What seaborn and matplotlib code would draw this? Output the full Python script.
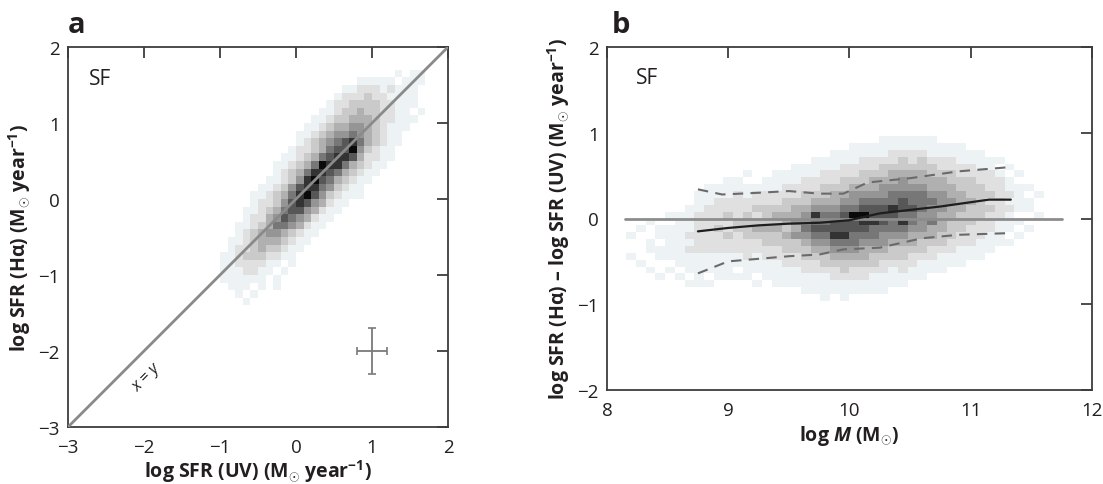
import numpy as np
import seaborn as sns
import matplotlib
matplotlib.use("Agg")
import matplotlib.pyplot as plt
from matplotlib.colors import ListedColormap

# ---------------------------------------------------------------------------
# Panel a: density of galaxies in log SFR(UV) vs log SFR(Halpha), 0.1 dex cells.
# Each string is one row of cells (top row first), digits are density levels 0-9.
# ---------------------------------------------------------------------------
a_x_edges = np.round(np.arange(-1.0, 1.8001, 0.1), 2)   # log SFR (UV)
a_y_edges = np.round(np.arange(-1.5, 1.7001, 0.1), 2)   # log SFR (Halpha)
a_rows = [
    "0000000000000000000000010110",  # 1.65
    "0000000000000000001111101110",  # 1.55
    "0000000000000000112221211100",  # 1.45
    "0000000000000001222322111100",  # 1.35
    "0000000000000012233332211100",  # 1.25
    "0000000000000112334332211010",  # 1.15
    "0000000000001123344432211100",  # 1.05
    "0000000000011234455432111000",  # 0.95
    "0000000000112345565432110000",  # 0.85
    "0000000000123456786432110000",  # 0.75
    "0000000001223467795321100000",  # 0.65
    "0000000011234678874221100000",  # 0.55
    "0000000112346988643211000000",  # 0.45
    "0000000123468876432110000000",  # 0.35
    "0000001123589764321100000000",  # 0.25
    "0000011235788653211000000000",  # 0.15
    "0000112346897532111000000000",  # 0.05
    "0000122357875421100000000000",  # -0.05
    "0001123467754211000000000000",  # -0.15
    "0001224576542110000000000000",  # -0.25
    "0011234665421100000000000000",  # -0.35
    "0012345543211000000000000000",  # -0.45
    "0112344432110000000000000000",  # -0.55
    "0122343321100000000000000000",  # -0.65
    "1123332211000000000000000000",  # -0.75
    "1122221101000000000000000000",  # -0.85
    "1112211010000000000000000000",  # -0.95
    "1111110100000000000000000000",  # -1.05
    "0111010100000000000000000000",  # -1.15
    "0010100000000000000000000000",  # -1.25
    "0001000000000000000000000000",  # -1.35
    "0000000000000000000000000000",  # -1.45
]

# 1-sigma uncertainty cross
err_center = (1.0, -2.0)
err_x = 0.2
err_y = 0.3
identity = [-3, 2]

# ---------------------------------------------------------------------------
# Panel b: residual log SFR(Halpha) - log SFR(UV) against stellar mass.
# Each string is one column of cells (low mass first), digits top -> bottom.
# ---------------------------------------------------------------------------
b_x_edges = np.round(np.arange(8.16, 11.6001, 0.08), 2)   # log M
b_y_edges = np.round(np.arange(-0.96, 0.9601, 0.08), 2)   # residual
b_cols = [
    "000000000000001001000000",  # 8.20
    "000000000000010000100000",  # 8.28
    "000000000000100110010000",  # 8.36
    "000000000000011011001000",  # 8.44
    "000000000001011111010000",  # 8.52
    "000000000001111111101000",  # 8.60
    "000000000011112121110100",  # 8.68
    "000000001112222221111100",  # 8.76
    "000000011122222221110100",  # 8.84
    "000000011222232221111000",  # 8.92
    "000000111223223221111000",  # 9.00
    "000000112222332221101000",  # 9.08
    "000001011223333222111000",  # 9.16
    "000000012232343221110100",  # 9.24
    "000000112233343322111000",  # 9.32
    "000001112234343322111100",  # 9.40
    "000001122334434332211100",  # 9.48
    "000011122344545332211100",  # 9.56
    "000011223345565433221110",  # 9.64
    "000111223458676543221110",  # 9.72
    "000112233456676543321111",  # 9.80
    "001112234456778654322110",  # 9.88
    "001122334567778654332111",  # 9.96
    "011122345569776654322110",  # 10.04
    "011223345679876544322110",  # 10.12
    "011223445677866543321110",  # 10.20
    "111233455677765543221110",  # 10.28
    "112234456687665433211100",  # 10.36
    "112334556776865433221100",  # 10.44
    "112234456676654432211000",  # 10.52
    "112334456665554332111000",  # 10.60
    "111233445655644322110000",  # 10.68
    "011223445554443321110000",  # 10.76
    "011223344544333221100000",  # 10.84
    "011122334443332211100000",  # 10.92
    "001122333433322211000000",  # 11.00
    "001112233333222111000000",  # 11.08
    "000112223232221110000000",  # 11.16
    "000101222222111100000000",  # 11.24
    "000010112121110100000000",  # 11.32
    "000001011110101000000000",  # 11.40
    "000000010110010000000000",  # 11.48
    "000000001001000000000000",  # 11.56
]

# running median and 16th / 84th percentiles of the residual
median_mass = [8.75, 9.0, 9.25, 9.5, 9.75, 10.0, 10.25, 10.5, 10.75, 11.0, 11.15, 11.33]
median_resid = [-0.15, -0.11, -0.08, -0.06, -0.05, -0.02, 0.06, 0.10, 0.14, 0.19, 0.22, 0.22]
upper_mass = [8.75, 8.95, 9.25, 9.5, 9.75, 9.95, 10.15, 10.5, 10.9, 11.33]
upper_resid = [0.34, 0.28, 0.30, 0.32, 0.29, 0.29, 0.42, 0.47, 0.55, 0.60]
lower_mass = [8.75, 9.0, 9.5, 9.75, 9.95, 10.25, 10.6, 10.9, 11.33]
lower_resid = [-0.64, -0.50, -0.44, -0.42, -0.36, -0.34, -0.23, -0.19, -0.17]
zero_span = [8.15, 11.75]

# ---------------------------------------------------------------------------
sns.set_theme(style="white")
plt.rcParams.update({
    "font.family": ["Open Sans", "DejaVu Sans"],
    "mathtext.fontset": "custom",
    "mathtext.rm": "Open Sans",
    "mathtext.bf": "Open Sans:bold",
    "mathtext.it": "Open Sans:italic:bold",
    "axes.unicode_minus": True,
})

INK = "#231f20"
SPINE = "#3d3d3d"
LABEL_SIZE = 14
LEVEL_COLORS = ["#edf2f5", "#e0e0e0", "#cacaca", "#b0b0b0", "#959595",
                "#777777", "#575757", "#333333", "#0a0a0a"]
level_cmap = ListedColormap(LEVEL_COLORS)


def cells_from_rows(rows, x_edges, y_edges):
    """Cell centres and levels from row strings (top row first)."""
    xc = (x_edges[:-1] + x_edges[1:]) / 2
    yc = (y_edges[:-1] + y_edges[1:]) / 2
    xs, ys, ws = [], [], []
    for r, row in enumerate(rows):
        y = yc[len(yc) - 1 - r]
        for c, ch in enumerate(row):
            if ch != "0":
                xs.append(xc[c]); ys.append(y); ws.append(int(ch))
    return xs, ys, ws


def cells_from_cols(cols, x_edges, y_edges):
    """Cell centres and levels from column strings (top cell first)."""
    xc = (x_edges[:-1] + x_edges[1:]) / 2
    yc = (y_edges[:-1] + y_edges[1:]) / 2
    xs, ys, ws = [], [], []
    for c, col in enumerate(cols):
        for r, ch in enumerate(col):
            if ch != "0":
                xs.append(xc[c]); ys.append(yc[len(yc) - 1 - r]); ws.append(int(ch))
    return xs, ys, ws


def style_axes(ax):
    for s in ax.spines.values():
        s.set_color(SPINE)
        s.set_linewidth(1.3)
    ax.tick_params(direction="in", top=True, right=True, length=8, width=1.3,
                   color=SPINE, labelcolor=INK, labelsize=13.5)
    ax.tick_params(axis="x", pad=8)
    ax.tick_params(axis="y", pad=6)


fig = plt.figure(figsize=(11.03, 4.85), dpi=100)
ax_a = fig.add_axes([68 / 1103, 1 - 428 / 485, 380 / 1103, 380 / 485])
ax_b = fig.add_axes([607 / 1103, 1 - 391 / 485, 485 / 1103, 343 / 485])

# ---- panel a ----
xs, ys, ws = cells_from_rows(a_rows, a_x_edges, a_y_edges)
sns.histplot(x=xs, y=ys, weights=ws, bins=(a_x_edges, a_y_edges), ax=ax_a,
             cmap=level_cmap, vmin=0.5, vmax=9.5, zorder=1)
ax_a.plot(identity, identity, color="#8a8a8a", lw=2.0, zorder=3)
ax_a.errorbar([err_center[0]], [err_center[1]], xerr=err_x, yerr=err_y,
              fmt="none", ecolor="#7a7a7a", elinewidth=1.3, capsize=3,
              capthick=1.2, zorder=3)
ax_a.text(-1.97, -2.34, "x = y", rotation=45, fontstyle="italic",
          ha="center", va="center", fontsize=11.5, color=INK,
          rotation_mode="anchor")
ax_a.text(-2.72, 1.585, "SF", fontsize=15, color=INK, ha="left", va="center")
ax_a.set_xlim(-3, 2)
ax_a.set_ylim(-3, 2)
ax_a.set_xticks([-3, -2, -1, 0, 1, 2])
ax_a.set_yticks([-3, -2, -1, 0, 1, 2])
ax_a.set_xlabel("log SFR (UV) (M$_{\\odot}$ year$^{\\mathbf{-1}}$)",
                fontsize=LABEL_SIZE, fontweight="bold", color=INK, labelpad=0.5)
ax_a.set_ylabel("log SFR (H\u03b1) (M$_{\\odot}$ year$^{\\mathbf{-1}}$)",
                fontsize=LABEL_SIZE, fontweight="bold", color=INK, labelpad=4)
style_axes(ax_a)

# ---- panel b ----
xs, ys, ws = cells_from_cols(b_cols, b_x_edges, b_y_edges)
sns.histplot(x=xs, y=ys, weights=ws, bins=(b_x_edges, b_y_edges), ax=ax_b,
             cmap=level_cmap, vmin=0.5, vmax=9.5, zorder=1)
ax_b.plot(zero_span, [0, 0], color="#8c8c8c", lw=2.0, zorder=2)
sns.lineplot(x=median_mass, y=median_resid, ax=ax_b, color="#1e1e1e",
             lw=1.6, zorder=4)
sns.lineplot(x=upper_mass, y=upper_resid, ax=ax_b, color="#6a6a6a",
             lw=1.5, linestyle=(0, (5, 3.5)), zorder=4)
sns.lineplot(x=lower_mass, y=lower_resid, ax=ax_b, color="#6a6a6a",
             lw=1.5, linestyle=(0, (5, 3.5)), zorder=4)
ax_b.text(8.24, 1.65, "SF", fontsize=15, color=INK, ha="left", va="center")
ax_b.set_xlim(8, 12)
ax_b.set_ylim(-2, 2)
ax_b.set_xticks([8, 9, 10, 11, 12])
ax_b.set_yticks([-2, -1, 0, 1, 2])
ax_b.set_xlabel("log $\\mathit{M}$ (M$_{\\odot}$)", fontsize=LABEL_SIZE,
                fontweight="bold", color=INK, labelpad=3)
ax_b.set_ylabel("log SFR (H\u03b1) \u2013 log SFR (UV) (M$_{\\odot}$ year$^{\\mathbf{-1}}$)",
                fontsize=LABEL_SIZE, fontweight="bold", color=INK, labelpad=4)
style_axes(ax_b)

fig.text(68 / 1103, 1 - 33 / 485, "a", fontsize=21, fontweight="bold",
         color=INK, ha="left", va="baseline")
fig.text(612 / 1103, 1 - 33 / 485, "b", fontsize=21, fontweight="bold",
         color=INK, ha="left", va="baseline")

fig.savefig("out.png", dpi=100)
